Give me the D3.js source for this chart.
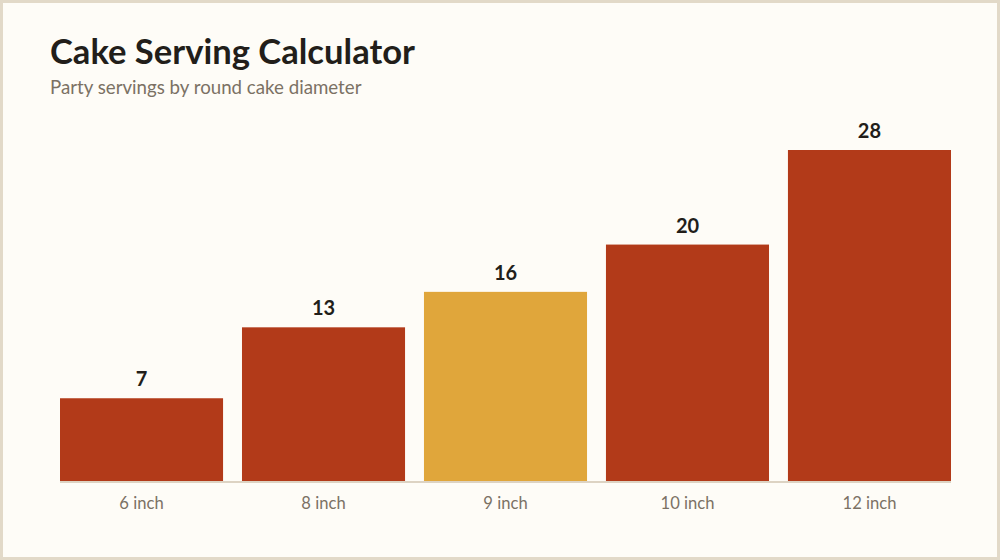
<!DOCTYPE html>
<html>
<head>
<meta charset="utf-8">
<script src="https://cdn.jsdelivr.net/npm/d3@7"></script>
<style>
  html, body { margin: 0; padding: 0; background: #fefcf7; }
  svg { display: block; font-family: Lato, "Open Sans", sans-serif; }
</style>
</head>
<body>
<div id="chart"></div>
<script>
var sizes = ["6 inch", "8 inch", "9 inch", "10 inch", "12 inch"]
var servings = [7, 13, 16, 20, 28]
var highlight = "9 inch"

var width = 1000, height = 560
var svg = d3.select("#chart").append("svg").attr("width", width).attr("height", height)

// frame
svg.append("rect").attr("x", 1.5).attr("y", 1.5)
    .attr("width", width - 3).attr("height", height - 3)
    .attr("fill", "#fefcf7").attr("stroke", "#e2d9c8").attr("stroke-width", 3)

svg.append("text").text("Cake Serving Calculator")
    .attr("x", 50).attr("y", 64)
    .attr("font-size", 34.6).attr("font-weight", 700).attr("fill", "#221e1a")
svg.append("text").text("Party servings by round cake diameter")
    .attr("x", 50).attr("y", 94)
    .attr("font-size", 18.7).attr("fill", "#7b7164")

var xScale = d3.scaleBand().domain(sizes).range([60, 951]).paddingInner(0.104).paddingOuter(0)
var yScale = d3.scaleLinear().domain([0, d3.max(servings)]).range([481, 150])

var data = sizes.map(function(s, i){ return {size: s, value: servings[i]} })

svg.selectAll("rect.bar")
    .data(data)
    .enter()
    .append("rect")
    .attr("class", "bar")
    .attr("x", function(d){ return xScale(d.size) })
    .attr("y", function(d){ return yScale(d.value) })
    .attr("width", xScale.bandwidth())
    .attr("height", function(d){ return yScale(0) - yScale(d.value) })
    .attr("fill", function(d){ return d.size == highlight ? "#e0a63b" : "#b23a19" })

svg.selectAll("text.value")
    .data(data)
    .enter()
    .append("text")
    .attr("class", "value")
    .attr("x", function(d){ return xScale(d.size) + xScale.bandwidth() / 2 })
    .attr("y", function(d){ return yScale(d.value) - 12 })
    .attr("text-anchor", "middle")
    .attr("font-size", 20).attr("font-weight", 700).attr("fill", "#221e1a")
    .text(function(d){ return d.value })

// baseline + category labels
var axis = d3.axisBottom(xScale).tickSize(0).tickPadding(16)
var g = svg.append("g").attr("transform", "translate(0,481)").call(axis)
g.select(".domain").attr("stroke", "#ddd3c3").attr("stroke-width", 2)
    .attr("d", "M60,1H951")
g.selectAll("text").attr("font-size", 16.6).attr("fill", "#7b7164")
    .attr("font-family", "Lato, sans-serif")
</script>
</body>
</html>
